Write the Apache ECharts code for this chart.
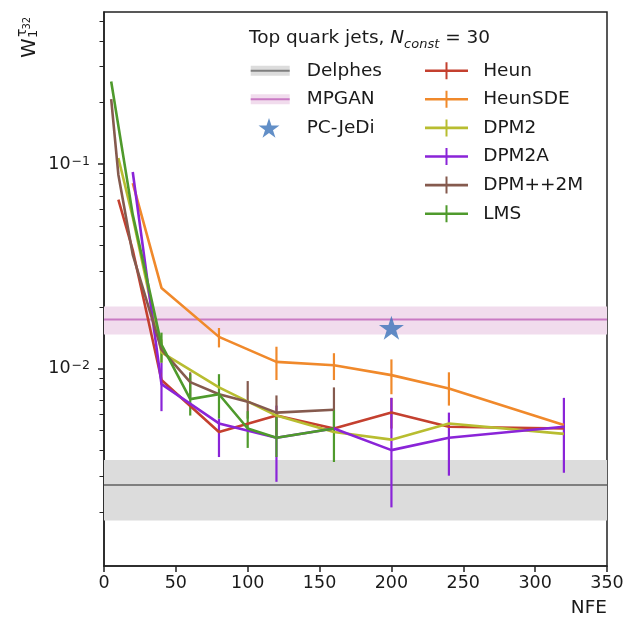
<!DOCTYPE html>
<html>
<head>
<meta charset="utf-8">
<script src="https://cdn.jsdelivr.net/npm/echarts@6/dist/echarts.min.js"></script>
<style>
  html, body { margin: 0; padding: 0; background: #fff; }
  #chart { width: 627px; height: 620px; }
</style>
</head>
<body>
<div id="chart"></div>
<script>
// W1(tau32) vs NFE per sampler. null = no visible error bar
const nfeHeun = [10, 20, 40, 80, 120, 160, 200, 240, 320];
const heun = [0.067, 0.038, 0.0088, 0.0049, 0.0059, 0.0051, 0.0061, 0.0052, 0.0051];
const heunLo = [null, null, null, null, null, null, 0.0051, null, null];
const heunHi = [null, null, null, null, null, null, 0.0072, null, null];

const nfeHeunSDE = [20, 40, 80, 120, 160, 200, 240, 320];
const heunSDE = [0.0807, 0.0248, 0.0143, 0.0108, 0.0104, 0.0093, 0.0080, 0.0053];
const heunSDELo = [null, null, 0.0127, 0.0088, 0.0088, 0.0075, 0.0066, null];
const heunSDEHi = [null, null, 0.0158, 0.0128, 0.0119, 0.0111, 0.0096, null];

const nfeDPM2 = [10, 20, 40, 80, 120, 160, 200, 240, 320];
const dpm2 = [0.107, 0.055, 0.0120, 0.0081, 0.0059, 0.0049, 0.0045, 0.0054, 0.0048];
const dpm2Lo = [null, null, 0.0107, null, null, null, null, null, null];
const dpm2Hi = [null, null, 0.0139, null, null, null, null, null, null];

const nfeDPM2A = [20, 40, 80, 120, 160, 200, 240, 320];
const dpm2a = [0.0914, 0.0084, 0.0054, 0.0046, 0.0051, 0.0040, 0.0046, 0.0052];
const dpm2aLo = [null, 0.0062, 0.0037, 0.0028, null, 0.0021, 0.0030, 0.0031];
const dpm2aHi = [null, 0.0107, 0.0057, 0.0066, null, 0.0072, 0.0061, 0.0072];

const nfeDPMpp = [5, 10, 20, 40, 60, 80, 100, 120, 160];
const dpmpp = [0.2075, 0.0887, 0.0361, 0.0124, 0.0086, 0.0075, 0.0069, 0.0061, 0.0063];
const dpmppLo = [null, null, null, null, 0.0072, null, 0.0057, 0.0047, 0.0049];
const dpmppHi = [null, null, null, null, 0.0096, null, 0.0087, 0.0074, 0.0081];

const nfeLMS = [5, 20, 40, 60, 80, 100, 120, 160];
const lms = [0.253, 0.0566, 0.0131, 0.0071, 0.0075, 0.0051, 0.0046, 0.0051];
const lmsLo = [null, null, 0.0107, 0.0059, 0.0057, 0.0041, 0.0037, 0.0035];
const lmsHi = [null, null, 0.0150, 0.0094, 0.0094, 0.0062, 0.0060, 0.0063];

// reference bands: [low, value, high]
const delphesBand = [0.00181, 0.0027, 0.00358];
const mpganBand = [0.0147, 0.0174, 0.0201];
const pcJedi = [200, 0.01585];

const xRange = [0, 350];
const yRange = [0.001086, 0.553];
const majorTicks = [0.01, 0.1];
const minorTicks = [0.002, 0.003, 0.004, 0.005, 0.006, 0.007, 0.008, 0.009,
  0.02, 0.03, 0.04, 0.05, 0.06, 0.07, 0.08, 0.09, 0.2, 0.3, 0.4, 0.5];

const FONT = 'DejaVu Sans';
const INK = '#222';
const TEXT = '#1a1a1a';

const samplers = [
  { name: 'Heun', color: '#c4402f', nfe: nfeHeun, v: heun, lo: heunLo, hi: heunHi },
  { name: 'HeunSDE', color: '#f0892b', nfe: nfeHeunSDE, v: heunSDE, lo: heunSDELo, hi: heunSDEHi },
  { name: 'DPM2', color: '#b8bd30', nfe: nfeDPM2, v: dpm2, lo: dpm2Lo, hi: dpm2Hi },
  { name: 'DPM2A', color: '#8a24d8', nfe: nfeDPM2A, v: dpm2a, lo: dpm2aLo, hi: dpm2aHi },
  { name: 'DPM++2M', color: '#855a4e', nfe: nfeDPMpp, v: dpmpp, lo: dpmppLo, hi: dpmppHi },
  { name: 'LMS', color: '#4f9a2c', nfe: nfeLMS, v: lms, lo: lmsLo, hi: lmsHi },
];

// legend icons, drawn in a 51x22 / 53x22 box (the M moves pin the box size)
const STAR = 'M18.3,1L20.77,8.6L28.76,8.6L22.29,13.3L24.77,20.9L18.3,16.2L11.83,20.9L14.31,13.3L7.84,8.6L15.83,8.6Z';
const ICON_BAND = 'path://M0,0M51,22M0,6H39V16H0Z';
const ICON_LINE = 'path://M0,0M51,22M0,10H39V12H0Z';
const ICON_STAR = 'path://M0,0M51,22' + STAR;
const ICON_ERR = 'path://M0,0M53,22M0,9.7H43V12.3H0Z M20.5,2.5H22.5V19.5H20.5Z';

const powLabel = v => '10{s|−' + Math.round(-Math.log10(v)) + '}';

function bandSeries(name, band, fill) {
  return {
    name, type: 'custom', data: [[xRange[0], xRange[1], band[0], band[2]]],
    encode: { x: [0, 1], y: [2, 3] }, z: 1, silent: true,
    renderItem: (params, api) => {
      const a = api.coord([api.value(0), api.value(3)]);
      const b = api.coord([api.value(1), api.value(2)]);
      return { type: 'rect', shape: { x: a[0], y: a[1], width: b[0] - a[0], height: b[1] - a[1] }, style: { fill } };
    },
  };
}

function hLine(name, band, color) {
  return {
    name, type: 'line', data: [[xRange[0], band[1]], [xRange[1], band[1]]],
    symbol: 'none', lineStyle: { color, width: 2 }, itemStyle: { color }, z: 2, silent: true,
  };
}

const series = [
  bandSeries('Delphes', delphesBand, '#dcdcdc'),
  bandSeries('MPGAN', mpganBand, '#f1dced'),
  hLine('Delphes', delphesBand, '#7f7f7f'),
  hLine('MPGAN', mpganBand, '#c97ac4'),
];

samplers.forEach(s => {
  series.push({
    name: s.name, type: 'line', data: s.nfe.map((x, i) => [x, s.v[i]]),
    symbol: 'none', lineStyle: { color: s.color, width: 2.6 }, itemStyle: { color: s.color }, z: 3,
  });
  series.push({
    name: s.name, type: 'custom', z: 3,
    data: s.nfe.map((x, i) => (s.lo[i] == null ? null : [x, s.lo[i], s.hi[i]])).filter(d => d),
    encode: { x: 0, y: [1, 2] },
    itemStyle: { color: s.color },
    renderItem: (params, api) => {
      const p1 = api.coord([api.value(0), api.value(1)]);
      const p2 = api.coord([api.value(0), api.value(2)]);
      return { type: 'line', shape: { x1: p1[0], y1: p1[1], x2: p2[0], y2: p2[1] }, style: { stroke: s.color, lineWidth: 2.2 } };
    },
  });
});

series.push({
  name: 'PC-JeDi', type: 'scatter', data: [pcJedi], symbol: 'path://' + STAR, symbolSize: [25, 24],
  itemStyle: { color: '#3b73b9' }, z: 5,
});

// minor log ticks on the left spine (pixel-snapped so they stay crisp)
series.push({
  name: 'minor ticks', type: 'custom', data: minorTicks.map(v => [xRange[0], v]), encode: { x: 0, y: 1 },
  silent: true, clip: false, z: 6,
  renderItem: (params, api) => {
    const p = api.coord([api.value(0), api.value(1)]);
    const y = Math.round(p[1]) + 0.5;
    return { type: 'line', shape: { x1: p[0] - 4.5, y1: y, x2: p[0], y2: y }, style: { stroke: INK, lineWidth: 1 } };
  },
});

const legendBase = {
  orient: 'vertical', top: 59.7, padding: 0, itemGap: 6.6, itemHeight: 22, selectedMode: false,
  textStyle: { fontFamily: FONT, fontSize: 18.5, color: TEXT, lineHeight: 22 },
};

const chart = echarts.init(document.getElementById('chart'), null, { renderer: 'canvas' });
chart.setOption({
  animation: false,
  backgroundColor: '#fff',
  title: {
    text: 'Top quark jets, {i|N}{s|const} = 30', left: 249, top: 25, padding: 0,
    textStyle: {
      fontFamily: FONT, fontSize: 18.5, fontWeight: 'normal', color: TEXT, lineHeight: 26,
      rich: {
        i: { fontFamily: FONT, fontSize: 18.5, fontStyle: 'italic', color: TEXT, lineHeight: 26 },
        s: { fontFamily: FONT, fontSize: 13, fontStyle: 'italic', color: TEXT, lineHeight: 12, verticalAlign: 'bottom' },
      },
    },
  },
  legend: [
    Object.assign({}, legendBase, {
      left: 250.7, itemWidth: 51, z: 2,
      textStyle: Object.assign({}, legendBase.textStyle, { color: 'rgba(0,0,0,0)' }),
      data: [
        { name: 'Delphes', icon: ICON_BAND, itemStyle: { color: '#dcdcdc' } },
        { name: 'MPGAN', icon: ICON_BAND, itemStyle: { color: '#f1dced' } },
        { name: 'PC-JeDi', icon: ICON_BAND, itemStyle: { color: 'rgba(0,0,0,0)' } },
      ],
    }),
    Object.assign({}, legendBase, {
      left: 250.7, itemWidth: 51, z: 3,
      data: [
        { name: 'Delphes', icon: ICON_LINE, itemStyle: { color: '#7f7f7f' } },
        { name: 'MPGAN', icon: ICON_LINE, itemStyle: { color: '#c97ac4' } },
        { name: 'PC-JeDi', icon: ICON_STAR, itemStyle: { color: '#3b73b9' } },
      ],
    }),
    Object.assign({}, legendBase, {
      left: 425, itemWidth: 53.3, z: 3,
      data: samplers.map(s => ({ name: s.name, icon: ICON_ERR, itemStyle: { color: s.color } })),
    }),
  ],
  grid: {
    left: 104, top: 12, width: 503, height: 554, show: true,
    borderColor: INK, borderWidth: 1.5, outerBoundsMode: 'none',
  },
  xAxis: {
    type: 'value', min: xRange[0], max: xRange[1], interval: 50,
    axisLine: { lineStyle: { color: INK, width: 1.5 } },
    axisTick: { length: 6, lineStyle: { color: INK, width: 1.5 } },
    axisLabel: { fontFamily: FONT, fontSize: 17.5, color: TEXT, margin: 8 },
    splitLine: { show: false },
    name: 'NFE', nameLocation: 'end', nameGap: 0,
    nameTextStyle: { fontFamily: FONT, fontSize: 18.5, color: TEXT, align: 'right', verticalAlign: 'top', padding: [33, 0, 0, 0] },
  },
  yAxis: {
    type: 'log', logBase: 10, min: yRange[0], max: yRange[1],
    axisLine: { lineStyle: { color: INK, width: 1.5 } },
    axisTick: { length: 6, customValues: majorTicks, lineStyle: { color: INK, width: 1.5 } },
    axisLabel: {
      customValues: majorTicks, fontFamily: FONT, fontSize: 17.5, color: TEXT, margin: 14, formatter: powLabel,
      rich: { s: { fontFamily: FONT, fontSize: 12.5, color: TEXT, verticalAlign: 'top', lineHeight: 12, padding: [0, 0, 6, 1] } },
    },
    splitLine: { show: false },
  },
  graphic: [
    {
      type: 'group', x: 35, y: 58, rotation: Math.PI / 2,
      children: [
        { type: 'text', x: 0, y: 4.8, style: { text: 'W', fontFamily: FONT, fontSize: 20, fill: TEXT, verticalAlign: 'bottom' } },
        { type: 'text', x: 20, y: 5.6, style: { text: '1', fontFamily: FONT, fontSize: 13, fill: TEXT, verticalAlign: 'bottom' } },
        { type: 'text', x: 21, y: -5.2, style: { text: 'τ', fontFamily: FONT, fontSize: 14, fill: TEXT, verticalAlign: 'bottom' } },
        { type: 'text', x: 28.5, y: -3, style: { text: '32', fontFamily: FONT, fontSize: 10, fill: TEXT, verticalAlign: 'bottom' } },
      ],
    },
  ],
  series,
});
</script>
</body>
</html>
